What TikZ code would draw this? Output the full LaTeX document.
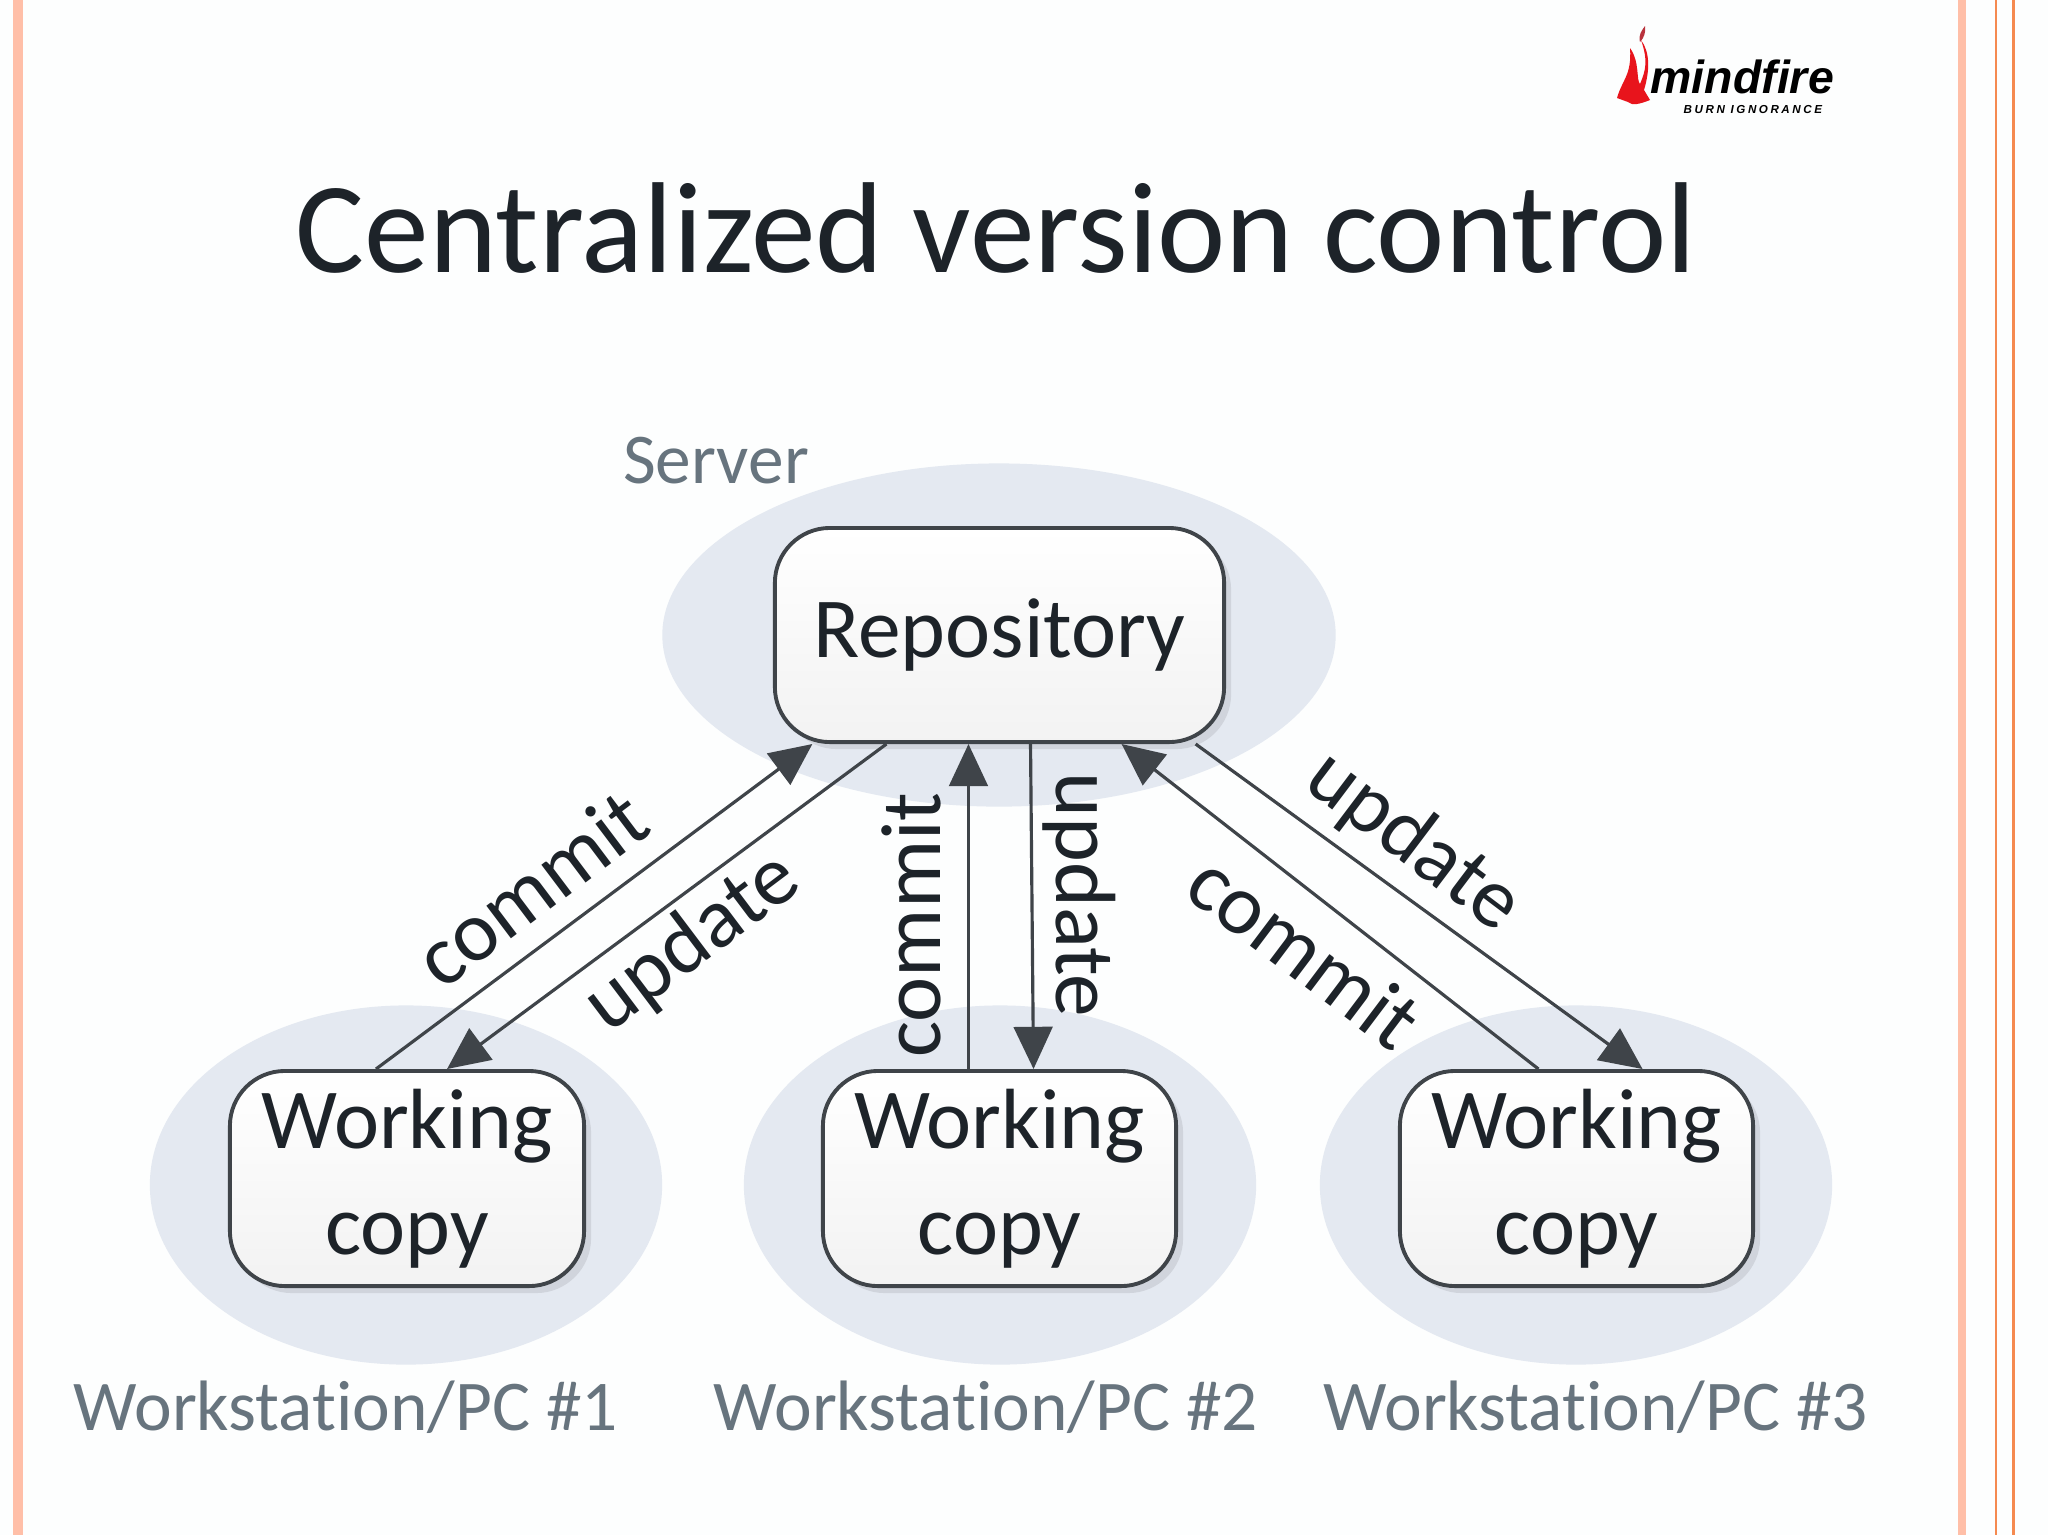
\documentclass[tikz,border=0pt]{standalone}
\usepackage{fontspec}
\usepackage{tikz}
\usetikzlibrary{shapes, arrows.meta, shadows}
\setmainfont{Carlito}[Ligatures=NoCommon]
\newfontfamily\logofont{Liberation Sans}
\newfontfamily\tagfont[LetterSpace=22]{Liberation Sans}

\definecolor{pagewhite}{HTML}{FDFEFE}
\definecolor{stripepink}{HTML}{FFBFA8}
\definecolor{stripeorange}{HTML}{F58A50}
\definecolor{hostblue}{HTML}{E4E9F1}
\definecolor{boxline}{HTML}{3F4449}
\definecolor{boxshadow}{HTML}{C3C7CE}
\definecolor{inktext}{HTML}{1D2329}
\definecolor{hosttext}{HTML}{67747E}
\definecolor{flamered}{HTML}{E8141C}
\definecolor{flamedark}{HTML}{B8323C}

\tikzset{
    host/.style={ellipse, fill=hostblue, inner sep=0pt},
    store/.style={draw=boxline, line width=1.1pt, rounded corners=0.55cm, top color=white,
        bottom color=black!5, inner sep=0pt, text=inktext, align=center,
        font=\fontsize{24.3}{30}\selectfont,
        drop shadow={shadow xshift=0.07cm, shadow yshift=-0.07cm, fill=boxshadow, opacity=0.6}},
    flow/.style={draw=boxline, line width=0.9pt, -{Triangle[length=12pt, width=11pt]}},
    verb/.style={text=inktext, inner sep=0pt, font=\fontsize{24.3}{28}\selectfont},
    hostname/.style={text=hosttext, inner sep=0pt, font=\fontsize{20.3}{24}\selectfont}
}

\begin{document}
\begin{tikzpicture}[x=0.01cm, y=-0.01cm]
    \useasboundingbox (0,0) rectangle (2048,1535);
    \fill[pagewhite] (0,0) rectangle (2048,1535);

    % Page stripes
    \fill[stripepink] (13,0) rectangle (23,1535);
    \fill[stripepink] (1958,0) rectangle (1966,1535);
    \fill[stripeorange] (1995,0) rectangle (1997,1535);
    \fill[stripeorange] (2012,0) rectangle (2015,1535);

    % Logo
    \fill[flamered] (1617,98) .. controls (1622,80) and (1632,75) .. (1630,48)
        .. controls (1640,62) and (1636,80) .. (1640,84)
        .. controls (1646,70) and (1648,60) .. (1641,40)
        .. controls (1650,52) and (1650,70) .. (1644,90)
        -- (1650,100) .. controls (1640,104) and (1632,106) .. (1628,102) -- cycle;
    \fill[flamedark] (1640,42) .. controls (1638,35) and (1642,30) .. (1645,26)
        .. controls (1646,32) and (1644,38) .. (1640,42) -- cycle;
    \node[inner sep=0pt, anchor=west] (brand) at (1650,77)
        {\logofont\fontsize{13.2}{15}\selectfont\bfseries\itshape mindfire};
    \node[inner sep=0pt, anchor=west] (motto) at (1683,109)
        {\tagfont\fontsize{3.3}{4}\selectfont\bfseries\itshape BURN IGNORANCE};

    % Title
    \node[text=inktext, inner sep=0pt, font=\fontsize{36.8}{40}\selectfont] (title) at (996,228)
        {Centralized version control};

    % Shaded hosts behind the boxes
    \node[host, minimum width=6.73cm, minimum height=3.43cm] (serverhost) at (999,635) {};
    \node[host, minimum width=5.12cm, minimum height=3.59cm] (hostA) at (406,1185) {};
    \node[host, minimum width=5.12cm, minimum height=3.59cm] (hostB) at (1000,1185) {};
    \node[host, minimum width=5.12cm, minimum height=3.59cm] (hostC) at (1576,1185) {};

    % The repository and the working copies
    \node[store, minimum width=4.49cm, minimum height=2.14cm] (repo) at (999.5,635) {Repository};
    \node[store, minimum width=3.54cm, minimum height=2.15cm] (copyA) at (407,1178.5) {Working\\copy};
    \node[store, minimum width=3.53cm, minimum height=2.15cm] (copyB) at (999.5,1178.5) {Working\\copy};
    \node[store, minimum width=3.53cm, minimum height=2.15cm] (copyC) at (1576.5,1178.5) {Working\\copy};

    % Connectors to and from the repository
    \draw[flow] ([xshift=-0.31cm]copyA.north) -- ([xshift=-1.87cm]repo.south);
    \draw[flow] ([xshift=-1.13cm]repo.south) -- ([xshift=0.40cm]copyA.north);
    \draw[flow] ([xshift=-0.31cm]copyB.north) -- ([xshift=-0.31cm]repo.south);
    \draw[flow] ([xshift=0.31cm]repo.south) -- ([xshift=0.34cm]copyB.north);
    \draw[flow] ([xshift=-0.38cm]copyC.north) -- ([xshift=1.22cm]repo.south);
    \draw[flow] ([xshift=1.96cm]repo.south) -- ([xshift=0.66cm]copyC.north);

    % Connector labels
    \node[verb, rotate=37] (commitA) at (531,888) {commit};
    \node[verb, rotate=37] (updateA) at (693,943) {update};
    \node[verb, rotate=90] (commitB) at (911,925) {commit};
    \node[verb, rotate=-90] (updateB) at (1079,895) {update};
    \node[verb, rotate=-37] (commitC) at (1305,951) {commit};
    \node[verb, rotate=-37] (updateC) at (1413,842) {update};

    % Host labels
    \node[hostname] (servername) at (716,461) {Server};
    \node[hostname] (nameA) at (346,1407) {Workstation/PC \#1};
    \node[hostname] (nameB) at (986,1407) {Workstation/PC \#2};
    \node[hostname] (nameC) at (1596,1407) {Workstation/PC \#3};
\end{tikzpicture}
\end{document}
